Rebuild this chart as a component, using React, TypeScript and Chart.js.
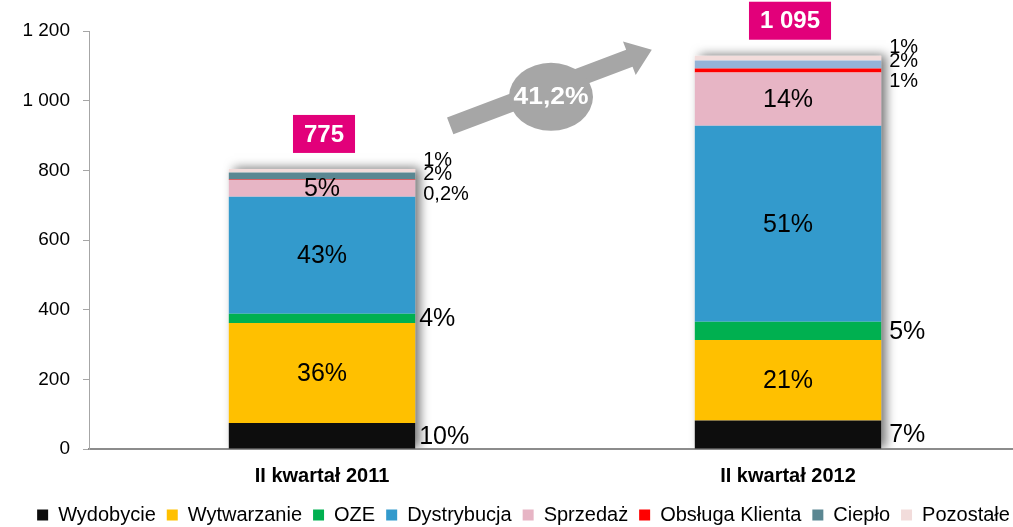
import React, { useEffect, useRef } from 'react';
import { Chart, registerables } from 'chart.js';

Chart.register(...registerables);

// ---------- data ----------
const categories = ['II kwartał 2011', 'II kwartał 2012'];
const seriesNames = ['Wydobycie', 'Wytwarzanie', 'OZE', 'Dystrybucja', 'Sprzedaż', 'Obsługa Klienta', 'Ciepło', 'Pozostałe'];
const wydobycie = [75, 82];
const wytwarzanie = [287, 231];
const oze = [26, 52];
const dystrybucja = [336, 563];
const sprzedaz = [48, 153];
const obslugaKlienta = [2, 11];
const cieplo = [20, 23];
const pozostale = [10, 14];
const shareLabels2011 = ['10%', '36%', '4%', '43%', '5%', '0,2%', '2%', '1%'];
const shareLabels2012 = ['7%', '21%', '5%', '51%', '14%', '1%', '2%', '1%'];
const totals = ['775', '1 095'];
const growthLabel = '41,2%';
const yMin = 0;
const yMax = 1200;
const yStep = 200;

// ---------- styles ----------
const seriesColors = ['#0D0D0D', '#FFC000', '#00B050', '#339ACC', '#E7B5C5', '#FF0000', '#5B8792', '#F2DCDB'];
const cieploColors = ['#5B8792', '#95B3D7'];
const labelPlacement = ['right', 'in', 'right', 'in', 'in', 'top', 'top', 'top'];
const topLabelOffset: Record<number, number> = { 5: 25, 6: 5, 7: -9 };
const FONT = '"Liberation Sans", Arial, Helvetica, sans-serif';

const seriesValues = [wydobycie, wytwarzanie, oze, dystrybucja, sprzedaz, obslugaKlienta, cieplo, pozostale];
const shareLabels = [shareLabels2011, shareLabels2012];

function elProps(el: any) {
  return el.getProps(['x', 'y', 'base', 'width'], true);
}

const shadowPlugin = {
  id: 'barShadow',
  beforeDatasetsDraw(chart: any) {
    const ctx = chart.ctx;
    const n = chart.data.datasets.length;
    const area = chart.chartArea;
    ctx.save();
    ctx.beginPath();
    ctx.rect(area.left, 0, area.right - area.left, area.bottom - 1);
    ctx.clip();
    for (let c = 0; c < categories.length; c++) {
      const top = elProps(chart.getDatasetMeta(n - 1).data[c]);
      const bottom = elProps(chart.getDatasetMeta(0).data[c]);
      const left = top.x - top.width / 2;
      ctx.save();
      ctx.shadowColor = 'rgba(0,0,0,0.55)';
      ctx.shadowBlur = 10;
      ctx.shadowOffsetX = 5;
      ctx.shadowOffsetY = -1;
      ctx.fillStyle = '#ffffff';
      ctx.fillRect(left, top.y, top.width, bottom.base - top.y);
      ctx.restore();
    }
    ctx.restore();
  },
};

const annotationsPlugin = {
  id: 'annotations',
  afterDraw(chart: any) {
    const ctx = chart.ctx;
    const n = chart.data.datasets.length;
    const tops: any[] = [];
    for (let c = 0; c < categories.length; c++) {
      const topEl = elProps(chart.getDatasetMeta(n - 1).data[c]);
      tops.push(topEl);
      const right = topEl.x + topEl.width / 2;
      for (let d = 0; d < n; d++) {
        const p = elProps(chart.getDatasetMeta(d).data[c]);
        const text = shareLabels[c][d];
        const place = labelPlacement[d];
        const mid = (p.y + p.base) / 2;
        ctx.save();
        ctx.fillStyle = '#000';
        ctx.textBaseline = 'middle';
        if (place === 'in') {
          ctx.font = `25px ${FONT}`;
          ctx.textAlign = 'center';
          ctx.fillText(text, p.x, mid + 1);
        } else if (place === 'right') {
          ctx.font = `25px ${FONT}`;
          ctx.textAlign = 'left';
          ctx.fillText(text, right + 4 + c * 4, mid + 1);
        } else {
          ctx.font = `20px ${FONT}`;
          ctx.textAlign = 'left';
          ctx.fillText(text, right + 8, topEl.y + topLabelOffset[d] + 1);
        }
        ctx.restore();
      }
      // total box
      ctx.save();
      ctx.font = `bold 24px ${FONT}`;
      const tw = ctx.measureText(totals[c]).width;
      const bw = tw + 22;
      const bh = 38;
      const cx = topEl.x + 2;
      const cy = topEl.y - 35;
      ctx.fillStyle = '#E2007A';
      ctx.fillRect(cx - bw / 2, cy - bh / 2, bw, bh);
      ctx.fillStyle = '#fff';
      ctx.textAlign = 'center';
      ctx.textBaseline = 'middle';
      ctx.fillText(totals[c], cx, cy + 1);
      ctx.restore();
    }
    // growth arrow
    const b1 = tops[0];
    const b2 = tops[1];
    const A = { x: b1.x + b1.width / 2 + 35, y: b1.y - 43 };
    const B = { x: b2.x - b2.width / 2 - 43, y: b2.y - 6 };
    const ang = Math.atan2(B.y - A.y, B.x - A.x);
    const len = Math.hypot(B.x - A.x, B.y - A.y);
    ctx.save();
    ctx.fillStyle = '#A6A6A6';
    ctx.translate(A.x, A.y);
    ctx.rotate(ang);
    ctx.beginPath();
    ctx.moveTo(0, -9);
    ctx.lineTo(len - 24, -9);
    ctx.lineTo(len - 24, -18);
    ctx.lineTo(len, 0);
    ctx.lineTo(len - 24, 18);
    ctx.lineTo(len - 24, 9);
    ctx.lineTo(0, 9);
    ctx.closePath();
    ctx.fill();
    ctx.restore();
    const mx = (A.x + B.x) / 2;
    const my = (A.y + B.y) / 2 + 9;
    ctx.save();
    ctx.fillStyle = '#A6A6A6';
    ctx.beginPath();
    ctx.ellipse(mx, my, 42, 34, 0, 0, Math.PI * 2);
    ctx.fill();
    ctx.translate(mx, my);
    ctx.scale(1.15, 1);
    ctx.fillStyle = '#fff';
    ctx.font = `bold 23px ${FONT}`;
    ctx.textAlign = 'center';
    ctx.textBaseline = 'middle';
    ctx.fillText(growthLabel, 0, 1);
    ctx.restore();
  },
};

const legendShiftPlugin = {
  id: 'legendShift',
  afterLayout(chart: any) {
    if (chart.legend) {
      chart.legend.left += 13;
      chart.legend.right += 13;
    }
  },
};

export default function App() {
  const ref = useRef<HTMLCanvasElement | null>(null);

  useEffect(() => {
    if (!ref.current) return;
    Chart.defaults.font.family = FONT;
    const datasets = seriesNames.map((name, i) => ({
      label: name,
      data: seriesValues[i],
      backgroundColor:
        i === 6
          ? (ctx: any) => (ctx.dataIndex === 1 ? cieploColors[1] : cieploColors[0])
          : seriesColors[i],
      borderWidth: 0,
      barPercentage: 0.4,
      categoryPercentage: 1,
    }));
    const chart = new Chart(ref.current, {
      type: 'bar',
      data: { labels: categories, datasets },
      options: {
        animation: false,
        responsive: true,
        maintainAspectRatio: false,
        layout: { padding: { top: 31, left: 0, right: 0, bottom: 0 } },
        plugins: {
          tooltip: { enabled: false },
          legend: {
            position: 'bottom',
            maxHeight: 33,
            labels: {
              boxWidth: 11,
              boxHeight: 11,
              padding: 11,
              color: '#000',
              font: { size: 20, family: FONT },
            },
          },
        },
        scales: {
          x: {
            stacked: true,
            grid: { display: true, drawOnChartArea: false, drawTicks: false },
            border: { color: '#8C8C8C', width: 2 },
            ticks: { color: '#000', padding: 15, font: { size: 20, weight: 'bold', family: FONT } },
            afterFit: (s: any) => {
              s.height = 45;
            },
          },
          y: {
            stacked: true,
            min: yMin,
            max: yMax,
            grid: { drawOnChartArea: false, tickLength: 6, color: '#A6A6A6' },
            border: { color: '#A6A6A6', width: 1 },
            ticks: {
              stepSize: yStep,
              padding: 13,
              color: '#000',
              font: { size: 19, family: FONT },
              callback: (v: any) => String(v).replace(/\B(?=(\d{3})+(?!\d))/g, ' '),
            },
            afterFit: (s: any) => {
              s.width = 89;
            },
          },
        },
      },
      plugins: [shadowPlugin, annotationsPlugin, legendShiftPlugin],
    } as any);
    return () => chart.destroy();
  }, []);

  return (
    <div style={{ position: 'absolute', left: 0, top: 0, width: 1013, height: 527, overflow: 'hidden', background: '#fff' }}>
      <div style={{ position: 'relative', width: 1021, height: 527 }}>
        <canvas ref={ref} />
      </div>
    </div>
  );
}
